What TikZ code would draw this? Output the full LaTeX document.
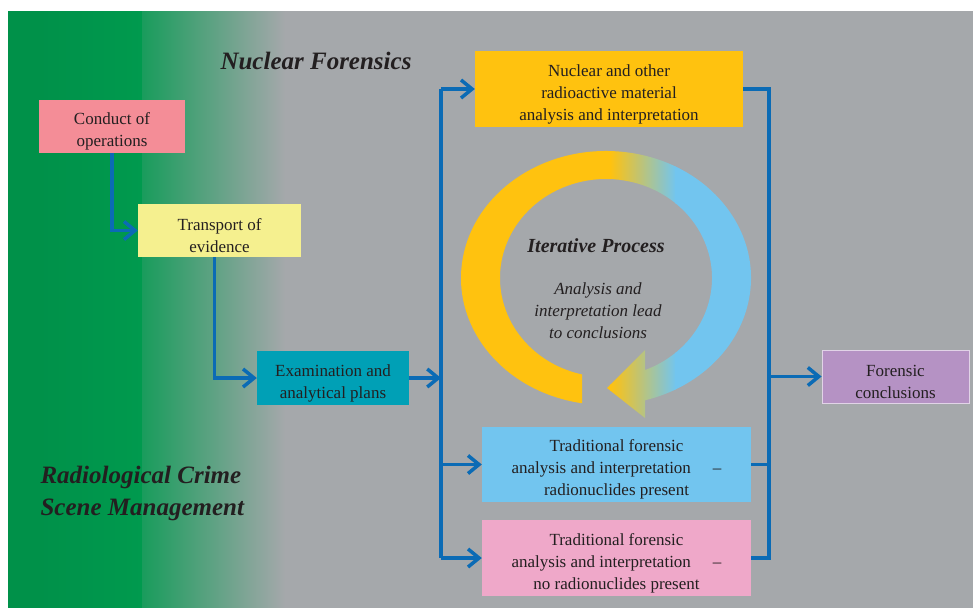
\documentclass[tikz,border=0pt]{standalone}
\usepackage{fontspec}
\setmainfont{Liberation Serif}
\usepackage{tikz}
\usetikzlibrary{arrows.meta, positioning, calc}
\definecolor{bggray}      {RGB}{165, 168, 171}
\definecolor{scenegreen}  {RGB}{0,   154, 78}
\definecolor{flowblue}    {RGB}{11,  107, 181}
\definecolor{inktext}     {RGB}{35,  31,  32}
\definecolor{conductred}  {RGB}{244, 141, 151}
\definecolor{transyellow} {RGB}{245, 240, 143}
\definecolor{examteal}    {RGB}{0,   160, 182}
\definecolor{nuclearamber}{RGB}{255, 194, 15}
\definecolor{tradblue}    {RGB}{114, 197, 239}
\definecolor{tradpink}    {RGB}{239, 168, 201}
\definecolor{conclpurple} {RGB}{181, 146, 196}
\newcommand{\boxstrut}{\rule{0pt}{22.5pt}}

\begin{document}
\begin{tikzpicture}[x=1pt,y=-1pt,
	box/.style={inner sep=0pt,align=center,text=inktext,font=\fontsize{17}{22}\selectfont},
	flow/.style={draw=flowblue,line width=3.5pt,-{Straight Barb[length=11pt,width=18pt]}},
	bus/.style={draw=flowblue,line width=3.5pt}]
						\useasboundingbox (0,0) rectangle (973,607);
						% background: green scene part fading into grey
						\begin{scope}
							\clip (8,12) rectangle (973,607);
							\fill[bggray] (0,0) rectangle (980,620);
							\fill[scenegreen!94!black] (0,0) rectangle (40,620);
							\shade[left color=scenegreen!94!black,right color=scenegreen] (39,0) rectangle (143,620);
							\shade[left color=scenegreen!85!bggray,right color=bggray] (142,0) rectangle (285,620);
						\end{scope}
						% titles
						\node[text=inktext,font=\fontsize{25}{30}\selectfont\bfseries\itshape] (nftitle) at (316,61) {Nuclear Forensics};
						\node[anchor=west,align=left,text=inktext,font=\fontsize{25}{32}\selectfont\bfseries\itshape] (rcsm) at (37,493) {Radiological Crime\\Scene Management};
						% iterative ring
						\coordinate (ringc) at (606,278);
						\begin{scope}
							\clip ($(ringc)+(99.5:145 and 127)$) arc[start angle=99.5,end angle=434.4,x radius=145,y radius=127]
								-- (645,418) -- (607,388) -- (645,350)
								-- ($(ringc)+(428.4:106 and 99)$) arc[start angle=428.4,end angle=103,x radius=106,y radius=99] -- cycle;
							\fill[nuclearamber] (455,145) rectangle (611,425);
							\shade[left color=nuclearamber,right color=tradblue] (610,145) rectangle (676,425);
							\fill[tradblue] (675,145) rectangle (760,425);
						\end{scope}
						\node[text=inktext,font=\fontsize{20}{24}\selectfont\bfseries\itshape] (iter) at (596,246) {Iterative Process};
						\node[align=center,text=inktext,font=\fontsize{17}{22}\selectfont\itshape] (lead) at (598,311) {Analysis and\\interpretation lead\\to conclusions};
						% boxes
						\node[box,fill=conductred,minimum width=146pt,minimum height=53pt] (conduct) at (112,126.5) {\boxstrut Conduct of\\operations};
						\node[box,fill=transyellow,minimum width=163pt,minimum height=53pt] (transport) at (219.5,230.5) {\boxstrut Transport of\\evidence};
						\node[box,fill=examteal,minimum width=152pt,minimum height=54pt] (exam) at (333,378) {\boxstrut Examination and\\analytical plans};
						\node[box,fill=nuclearamber,minimum width=268pt,minimum height=75pt] (nuclear) at (609,89) {\boxstrut Nuclear and other\\radioactive material\\analysis and interpretation};
						\node[box,fill=tradblue,minimum width=269pt,minimum height=75pt] (tradrad) at (616.5,464.5) {\boxstrut Traditional forensic\\analysis and interpretation\hspace{22pt}–\\radionuclides present};
						\node[box,fill=tradpink,minimum width=269pt,minimum height=76pt] (tradnon) at (616.5,558) {\boxstrut Traditional forensic\\analysis and interpretation\hspace{22pt}–\\no radionuclides present};
						\node[box,fill=conclpurple,draw=conclpurple!40!white,line width=0.8pt,minimum width=147pt,minimum height=53pt] (concl) at (895.5,376.5) {\boxstrut Forensic\\conclusions};
						% connectors
						\coordinate (busL) at (441,89);
						\coordinate (busR) at (769,89);
						\draw[flow] (conduct.south) |- (transport.west);
						\draw[flow] ([xshift=-5pt]transport.south) |- (exam.west);
						\draw[flow] (exam.east) -- (busL |- exam.east);
						\draw[bus] (busL |- nuclear.west) -- (busL |- tradnon.west);
						\draw[flow] (busL |- nuclear.west) -- (nuclear.west);
						\draw[flow] (busL |- tradrad.west) -- (tradrad.west);
						\draw[flow] (busL |- tradnon.west) -- (tradnon.west);
						\draw[bus] (nuclear.east) -- (busR |- nuclear.east) -- (busR |- tradnon.east) -- (tradnon.east);
						\draw[bus] (tradrad.east) -- (busR |- tradrad.east);
						\draw[flow] (busR |- concl.west) -- (concl.west);
					\end{tikzpicture}
\end{document}
